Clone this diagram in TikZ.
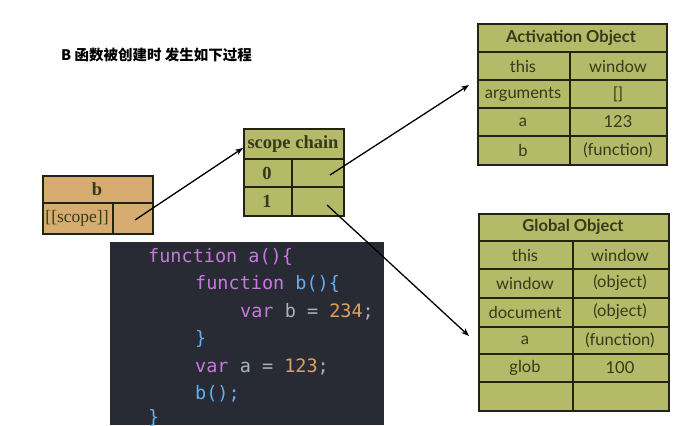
\documentclass[tikz,border=0pt]{standalone}
\usepackage{fontspec}
\setmainfont{Liberation Serif}
\newfontfamily\cellfont{Lato}
\newfontfamily\codefont{DejaVu Sans Mono}
\newfontfamily\cjkfont{Noto Sans CJK SC}
\usetikzlibrary{arrows.meta}
\definecolor{olivefill}{RGB}{180,186,104}
\definecolor{tanfill}{RGB}{214,172,112}
\definecolor{boxline}{RGB}{35,35,20}
\definecolor{celltext}{RGB}{55,58,25}
\definecolor{codebg}{RGB}{40,43,52}
\definecolor{kw}{RGB}{198,120,221}
\definecolor{fn}{RGB}{97,175,239}
\definecolor{num}{RGB}{222,160,95}
\definecolor{plain}{RGB}{171,178,191}
\tikzset{
  tbl/.style={draw=boxline, line width=1.6pt},
  sep/.style={draw=boxline, line width=1.4pt},
  cell/.style={font=\cellfont\fontsize{16.5}{16.5}\selectfont, text=celltext, inner sep=0pt},
  hdr/.style={font=\cellfont\bfseries\fontsize{16.5}{16.5}\selectfont, text=celltext, inner sep=0pt},
  shdr/.style={font=\bfseries\fontsize{18.5}{18.5}\selectfont, text=celltext, inner sep=0pt},
  code/.style={font=\codefont\fontsize{18.5}{18.5}\selectfont, anchor=west, inner sep=0pt},
  ptr/.style={line width=1.3pt, -{Stealth[length=8pt,width=6pt]}},
}
\begin{document}
\begin{tikzpicture}[x=1pt,y=-1pt]
\useasboundingbox (0,0) rectangle (684,425);
\fill[white] (0,0) rectangle (684,425);

% title
\node[anchor=west, inner sep=0pt, font=\cjkfont\bfseries\fontsize{14.5}{14.5}\selectfont] (title) at (61,55) {B 函数被创建时 发生如下过程};

% b box
\node[tbl, fill=tanfill, anchor=north west, minimum width=110pt, minimum height=58pt, inner sep=0pt] (bbox) at (42,175) {};
\draw[sep] (42,203) -- (152,203);
\draw[sep] (113,203) -- (113,233);
\node[shdr] (bname) at (97,189) {b};
\node[font=\fontsize{17.5}{17.5}\selectfont, text=celltext, inner sep=0pt] (bscope) at (77,218) {[[scope]]};
\coordinate (bptr) at (135,220);

% scope chain
\node[tbl, fill=olivefill, anchor=north west, minimum width=100pt, minimum height=87pt, inner sep=0pt] (sc) at (243,128) {};
\draw[sep] (243,159) -- (343,159);
\draw[sep] (243,187) -- (343,187);
\draw[sep] (292,159) -- (292,215);
\node[shdr] (schdr) at (293,144) {scope chain};
\node[shdr] (sc0) at (267,173) {0};
\node[shdr] (sc1) at (267,201) {1};
\coordinate (sc0ptr) at (330,175);
\coordinate (sc1ptr) at (327,205);
\coordinate (scin) at (243,148);

% Activation Object
\node[tbl, fill=olivefill, anchor=north west, minimum width=189pt, minimum height=141pt, inner sep=0pt] (ao) at (477,23) {};
\foreach \y in {52,80,108,136} \draw[sep] (477,\y) -- (666,\y);
\draw[sep] (570,52) -- (570,164);
\node[hdr] (aohdr) at (571,38) {Activation Object};
\node[cell] (ao1l) at (523,66) {this};
\node[cell] (ao1r) at (618,66) {window};
\node[cell] (ao2l) at (523,94) {arguments};
\node[cell] (ao2r) at (618,94) {[]};
\node[cell] (ao3l) at (523,122) {a};
\node[cell] (ao3r) at (618,122) {123};
\node[cell] (ao4l) at (523,150) {b};
\node[cell] (ao4r) at (618,150) {(function)};
\coordinate (aoin) at (469,85);

% Global Object
\node[tbl, fill=olivefill, anchor=north west, minimum width=190pt, minimum height=197pt, inner sep=0pt] (go) at (478,213) {};
\foreach \y in {241,269,298,327,354,382} \draw[sep] (478,\y) -- (668,\y);
\draw[sep] (573,241) -- (573,410);
\node[hdr] (gohdr) at (573,227) {Global Object};
\node[cell] (go1l) at (525,255) {this};
\node[cell] (go1r) at (620,255) {window};
\node[cell] (go2l) at (525,283) {window};
\node[cell] (go2r) at (620,283) {(object)};
\node[cell] (go3l) at (525,312) {document};
\node[cell] (go3r) at (620,312) {(object)};
\node[cell] (go4l) at (525,340) {a};
\node[cell] (go4r) at (620,340) {(function)};
\node[cell] (go5l) at (525,368) {glob};
\node[cell] (go5r) at (620,368) {100};
\coordinate (goin) at (469,336);

% code panel
\fill[codebg] (110,242) rectangle (384,425);
\node[code] (c1) at (148,257) {\textcolor{kw}{function} \textcolor{kw}{a()\{}};
\node[code] (c2) at (195,284) {\textcolor{kw}{function} \textcolor{fn}{b()\{}};
\node[code] (c3) at (240,312) {\textcolor{kw}{var} \textcolor{plain}{b =} \textcolor{num}{234}\textcolor{plain}{;}};
\node[code] (c4) at (195,339) {\textcolor{fn}{\}}};
\node[code] (c5) at (195,367) {\textcolor{kw}{var} \textcolor{plain}{a =} \textcolor{num}{123}\textcolor{plain}{;}};
\node[code] (c6) at (195,394) {\textcolor{fn}{b();}};
\begin{scope}
\clip (110,242) rectangle (384,425);
\node[code] (c7) at (148,418) {\textcolor{fn}{\}}};
\end{scope}

% connectors
\draw[ptr] (bptr) -- (scin);
\draw[ptr] (sc0ptr) -- (aoin);
\draw[ptr] (sc1ptr) -- (goin);
\end{tikzpicture}
\end{document}
